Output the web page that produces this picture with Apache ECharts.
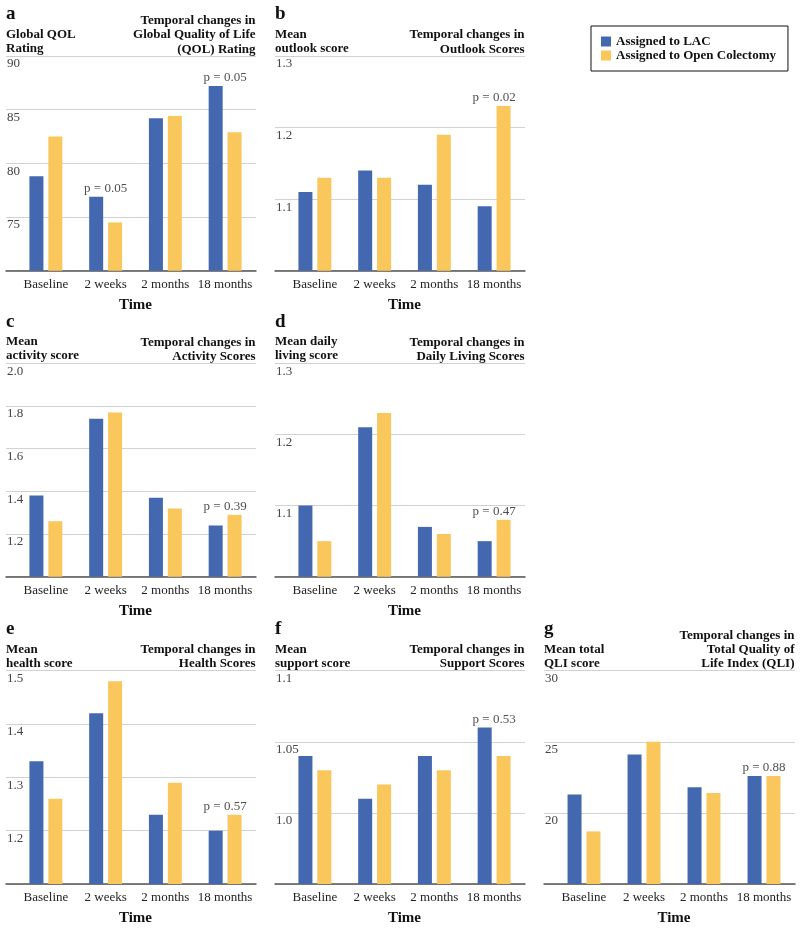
<!DOCTYPE html>
<html><head><meta charset="utf-8">
<script src="https://cdn.jsdelivr.net/npm/echarts@6/dist/echarts.min.js"></script>
<style>html,body{margin:0;padding:0;background:#fff}#c{width:800px;height:929px}</style>
</head><body><div id="c"></div>
<script>
const categories = ['Baseline', '2 weeks', '2 months', '18 months'];
const seriesNames = ['Assigned to LAC', 'Assigned to Open Colectomy'];

// a: Global QOL
const lacA = [78.8, 76.9, 84.2, 87.2];
const openA = [82.5, 74.5, 84.4, 82.9];
const pA = ['', 'p = 0.05', '', 'p = 0.05'];
const ticksA = [70, 75, 80, 85, 90];
const tickLabelsA = ['', '75', '80', '85', '90'];

// b: Outlook
const lacB = [1.11, 1.14, 1.12, 1.09];
const openB = [1.13, 1.13, 1.19, 1.23];
const pB = ['', '', '', 'p = 0.02'];
const ticksB = [1.0, 1.1, 1.2, 1.3];
const tickLabelsB = ['', '1.1', '1.2', '1.3'];

// c: Activity
const lacC = [1.38, 1.74, 1.37, 1.24];
const openC = [1.26, 1.77, 1.32, 1.29];
const pC = ['', '', '', 'p = 0.39'];
const ticksC = [1.0, 1.2, 1.4, 1.6, 1.8, 2.0];
const tickLabelsC = ['', '1.2', '1.4', '1.6', '1.8', '2.0'];

// d: Daily living
const lacD = [1.10, 1.21, 1.07, 1.05];
const openD = [1.05, 1.23, 1.06, 1.08];
const pD = ['', '', '', 'p = 0.47'];
const ticksD = [1.0, 1.1, 1.2, 1.3];
const tickLabelsD = ['', '1.1', '1.2', '1.3'];

// e: Health
const lacE = [1.33, 1.42, 1.23, 1.20];
const openE = [1.26, 1.48, 1.29, 1.23];
const pE = ['', '', '', 'p = 0.57'];
const ticksE = [1.1, 1.2, 1.3, 1.4, 1.5];
const tickLabelsE = ['', '1.2', '1.3', '1.4', '1.5'];

// f: Support
const lacF = [1.04, 1.01, 1.04, 1.06];
const openF = [1.03, 1.02, 1.03, 1.04];
const pF = ['', '', '', 'p = 0.53'];
const ticksF = [0.95, 1.0, 1.05, 1.1];
const tickLabelsF = ['', '1.0', '1.05', '1.1'];

// g: Total QLI
const lacG = [21.3, 24.1, 21.8, 22.6];
const openG = [18.7, 25.0, 21.4, 22.6];
const pG = ['', '', '', 'p = 0.88'];
const ticksG = [15, 20, 25, 30];
const tickLabelsG = ['', '20', '25', '30'];

const letters = ['a', 'b', 'c', 'd', 'e', 'f', 'g'];
const leftHeads = ['Global QOL\nRating', 'Mean\noutlook score', 'Mean\nactivity score', 'Mean daily\nliving score', 'Mean\nhealth score', 'Mean\nsupport score', 'Mean total\nQLI score'];
const rightHeads = ['Temporal changes in\nGlobal Quality of Life\n(QOL) Rating', 'Temporal changes in\nOutlook Scores', 'Temporal changes in\nActivity Scores', 'Temporal changes in\nDaily Living Scores', 'Temporal changes in\nHealth Scores', 'Temporal changes in\nSupport Scores', 'Temporal changes in\nTotal Quality of\nLife Index (QLI)'];

const panels = [
  {lac: lacA, open: openA, p: pA, ticks: ticksA, labels: tickLabelsA},
  {lac: lacB, open: openB, p: pB, ticks: ticksB, labels: tickLabelsB},
  {lac: lacC, open: openC, p: pC, ticks: ticksC, labels: tickLabelsC},
  {lac: lacD, open: openD, p: pD, ticks: ticksD, labels: tickLabelsD},
  {lac: lacE, open: openE, p: pE, ticks: ticksE, labels: tickLabelsE},
  {lac: lacF, open: openF, p: pF, ticks: ticksF, labels: tickLabelsF},
  {lac: lacG, open: openG, p: pG, ticks: ticksG, labels: tickLabelsG}
];

// layout (positions only)
const cols = [{l: 6, r: 256}, {l: 275, r: 525}, {l: 544, r: 795}];
const rows = [{t: 56, h: 214.7}, {t: 363.3, h: 213.4}, {t: 670.7, h: 213.3}];
const where = [[0,0],[1,0],[0,1],[1,1],[0,2],[1,2],[2,2]];

const BLUE = '#4468b0', YELLOW = '#f9c75c';
const FONT = '"Liberation Serif", "Times New Roman", serif';

const grid = [], xAxis = [], yAxis = [], series = [], title = [];
panels.forEach((pn, i) => {
  const c = cols[where[i][0]], r = rows[where[i][1]];
  const min = pn.ticks[0], max = pn.ticks[pn.ticks.length - 1];
  const interval = +(pn.ticks[1] - pn.ticks[0]).toFixed(6);
  const fmt = v => {
    const k = pn.ticks.findIndex(t => Math.abs(t - v) < 1e-6);
    return k >= 0 ? pn.labels[k] : '';
  };
  // grid A: gridlines, tick labels and baseline
  const gA = grid.length;
  grid.push({left: c.l, top: r.t, width: c.r - c.l, height: r.h, containLabel: false});
  xAxis.push({gridIndex: gA, type: 'value', min: 0, max: 1, axisLine: {show: true, onZero: false, lineStyle: {color: '#555', width: 1.5}}, axisTick: {show: false}, axisLabel: {show: false}, splitLine: {show: false}});
  yAxis.push({gridIndex: gA, type: 'value', min: min, max: max, interval: interval,
    axisLine: {show: false}, axisTick: {show: false},
    splitLine: {show: true, lineStyle: {color: '#d2d2d2', width: 1}},
    axisLabel: {inside: true, margin: 1, verticalAlign: 'top', padding: [1.5, 0, 0, 0], color: '#444', fontFamily: FONT, fontSize: 13, formatter: fmt, showMinLabel: false}});
  // grid B: bars
  const gB = grid.length;
  grid.push({left: c.l + 10, top: r.t, width: c.r - c.l - 11, height: r.h});
  xAxis.push({gridIndex: gB, type: 'category', data: categories, axisLine: {show: false}, axisTick: {show: false},
    axisLabel: {margin: 7, color: '#222', fontFamily: FONT, fontSize: 13, interval: 0},
    name: 'Time', nameLocation: 'middle', nameGap: 27,
    nameTextStyle: {fontFamily: FONT, fontWeight: 'bold', fontSize: 15, color: '#111'}});
  yAxis.push({gridIndex: gB, type: 'value', min: min, max: max, interval: interval, show: false});
  series.push({name: seriesNames[0], type: 'bar', xAxisIndex: gB, yAxisIndex: gB, data: pn.lac, barWidth: 14, barGap: '35%', itemStyle: {color: BLUE}, silent: true});
  series.push({name: seriesNames[1], type: 'bar', xAxisIndex: gB, yAxisIndex: gB, data: pn.open, barWidth: 14, barGap: '35%', itemStyle: {color: YELLOW}, silent: true});
  series.push({name: 'p' + i, type: 'scatter', xAxisIndex: gB, yAxisIndex: gB, symbolSize: 0, silent: true, z: 5,
    data: pn.p.map((t, k) => t ? Math.max(pn.lac[k], pn.open[k]) : '-'),
    label: {show: true, position: 'top', distance: 2, color: '#222', fontFamily: FONT, fontSize: 13,
      formatter: prm => pn.p[prm.dataIndex]}});
  // headings
  const hTop = r.t - 56;
  const rightLines = rightHeads[i].split('\n').length;
  title.push({text: letters[i], left: c.l, top: hTop + 5, textStyle: {fontFamily: FONT, fontWeight: 'bold', fontSize: 19, color: '#111'}, padding: 0});
  title.push({text: leftHeads[i], left: c.l, top: hTop + 27.3, textStyle: {fontFamily: FONT, fontWeight: 'bold', fontSize: 13, lineHeight: 14.3, color: '#111'}, padding: 0});
  title.push({text: rightHeads[i], left: c.r - 0.5, top: hTop + 56.5 - rightLines * 14.3, textAlign: 'right', textStyle: {fontFamily: FONT, fontWeight: 'bold', fontSize: 13, lineHeight: 14.3, color: '#111', align: 'right'}, padding: 0});
});

const chart = echarts.init(document.getElementById('c'), null, {renderer: 'canvas'});
chart.setOption({
  animation: false,
  backgroundColor: '#fff',
  title: title,
  legend: {data: seriesNames, orient: 'vertical', left: 591, top: 26, padding: [9, 12, 9, 10],
    borderColor: '#111', borderWidth: 1, itemWidth: 10, itemHeight: 10, itemGap: 1, icon: 'rect',
    textStyle: {fontFamily: FONT, fontWeight: 'bold', fontSize: 13, color: '#111'},
    selectedMode: false},
  grid: grid, xAxis: xAxis, yAxis: yAxis, series: series
});
</script></body></html>
